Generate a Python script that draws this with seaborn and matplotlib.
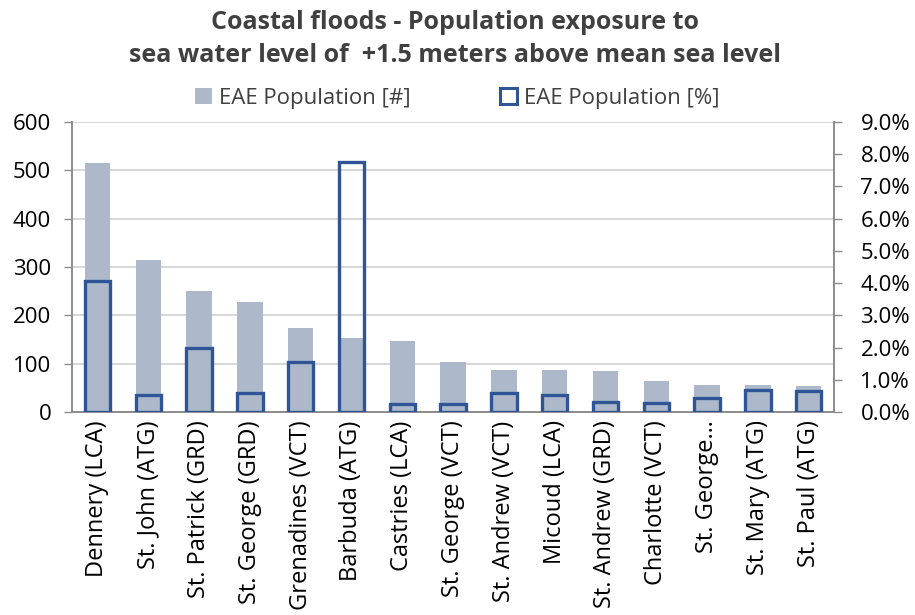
import matplotlib
matplotlib.use("Agg")
import matplotlib.pyplot as plt
from matplotlib.patches import Patch
from matplotlib.ticker import FixedLocator, PercentFormatter
import seaborn as sns
import pandas as pd

# Exposed population per district for a sea level of +1.5 m above mean sea level
districts = ["Dennery (LCA)", "St. John (ATG)", "St. Patrick (GRD)", "St. George (GRD)",
             "Grenadines (VCT)", "Barbuda (ATG)", "Castries (LCA)", "St. George (VCT)",
             "St. Andrew (VCT)", "Micoud (LCA)", "St. Andrew (GRD)", "Charlotte (VCT)",
             "St. George…", "St. Mary (ATG)", "St. Paul (ATG)"]
pop_count = [515, 314, 251, 228, 174, 154, 147, 104, 87, 87, 85, 65, 56, 56, 54]
pop_share = [4.08, 0.52, 2.00, 0.59, 1.55, 7.76, 0.24, 0.26, 0.59, 0.52, 0.32, 0.27, 0.43, 0.69, 0.66]

df = pd.DataFrame({"district": districts, "count": pop_count, "share": pop_share})

GREY = "#ADB9CA"
BLUE = "#2F5597"
AXIS = "#8C8C8C"
GRID = "#D4D4D4"
TEXT = "#404040"

sns.set_theme(style="white")
plt.rcParams["font.family"] = ["Open Sans", "DejaVu Sans"]

fig = plt.figure(figsize=(9.15, 6.15), dpi=100)
ax = fig.add_axes([0.0787, 0.330, 0.8328, 0.4716])

sns.barplot(data=df, x="district", y="count", color=GREY, width=0.5,
            saturation=1, ax=ax, zorder=2)
for p in ax.patches:
    p.set_edgecolor("none")

ax2 = ax.twinx()
sns.barplot(data=df, x="district", y="share", color=BLUE, width=0.5,
            saturation=1, ax=ax2, zorder=3)
for p in ax2.patches:
    p.set_facecolor("none")
    p.set_edgecolor(BLUE)
    p.set_linewidth(2.4)

ax.set_xlim(-0.5, len(districts) - 0.5)
ax.set_ylim(0, 600)
ax2.set_ylim(0, 9)
ax.set_yticks(range(0, 601, 100))
ax2.set_yticks(range(0, 10))
ax2.yaxis.set_major_formatter(PercentFormatter(decimals=1))

ax.set_xlabel("")
ax.set_ylabel("")
ax2.set_ylabel("")

ax.yaxis.grid(True, color=GRID, linewidth=1.3, zorder=0)
ax.set_axisbelow(True)

# category labels centred, tick marks on category boundaries
ax.set_xticks(range(len(districts)))
ax.set_xticklabels(districts, rotation=90, fontsize=17, color="#000000")
ax.xaxis.set_minor_locator(FixedLocator([i - 0.5 for i in range(len(districts) + 1)]))
ax.tick_params(axis="x", which="major", length=0, pad=6)
ax.tick_params(axis="x", which="minor", length=6, color=AXIS, width=1)
ax.tick_params(axis="y", which="major", length=6, color=AXIS, width=1, pad=9,
               labelsize=16, labelcolor="#000000", left=True)
ax2.tick_params(axis="y", which="major", length=6, color=AXIS, width=1, pad=13,
                labelsize=16, labelcolor="#000000", right=True)

for a in (ax, ax2):
    a.spines["top"].set_visible(False)
    for side in ("left", "right", "bottom"):
        a.spines[side].set_color(AXIS)
        a.spines[side].set_linewidth(1.2)

fig.text(0.497, 0.963, "Coastal floods - Population exposure to", ha="center",
         va="center", fontsize=18, fontweight="bold", color=TEXT)
fig.text(0.497, 0.910, "sea water level of  +1.5 meters above mean sea level", ha="center",
         va="center", fontsize=18, fontweight="bold", color=TEXT)

handles = [Patch(facecolor=GREY, edgecolor="none", label="EAE Population [#]"),
           Patch(facecolor="none", edgecolor=BLUE, linewidth=2.2, label="EAE Population [%]")]
fig.legend(handles=handles, loc="center", bbox_to_anchor=(0.5, 0.840), ncol=2,
           frameon=False, fontsize=16, handlelength=0.75, handleheight=0.75,
           handletextpad=0.35, columnspacing=4.0, labelcolor=TEXT)

fig.savefig("out.png", dpi=100)
